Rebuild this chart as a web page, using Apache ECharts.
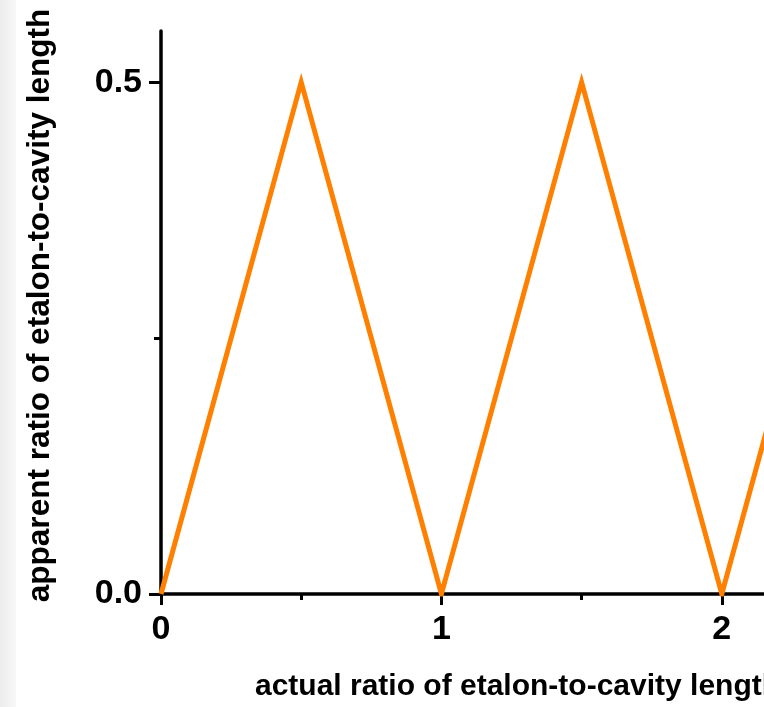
<!DOCTYPE html>
<html>
<head>
<meta charset="utf-8">
<script src="https://cdn.jsdelivr.net/npm/echarts@6/dist/echarts.min.js"></script>
<style>
  html, body { margin: 0; padding: 0; background: #ffffff; overflow: hidden; width: 764px; height: 707px; }
  /* the plot runs on past the right edge of the page */
  #chart { width: 862px; height: 707px; }
</style>
</head>
<body>
<div id="chart"></div>
<script>
// Apparent vs. actual etalon-to-cavity length ratio (folded sawtooth)
const actualRatio   = [0, 0.5, 1, 1.5, 2, 2.5];
const apparentRatio = [0, 0.5, 0, 0.5, 0, 0.5];
const xTickValues = [0, 1, 2];
const yTickValues = [0, 0.5];
const yMinorTicks = [0.25];

const xTitle = 'actual ratio of etalon-to-cavity length';
const yTitle = 'apparent ratio of etalon-to-cavity length';

const FONT = '"Liberation Sans", Arial, sans-serif';

const chart = echarts.init(document.getElementById('chart'), null, { renderer: 'canvas' });

chart.setOption({
  backgroundColor: '#ffffff',
  animation: false,
  graphic: [{
    type: 'rect',
    left: 0, top: 0, z: -10,
    shape: { width: 16, height: 707 },
    style: {
      fill: new echarts.graphic.LinearGradient(0, 0, 1, 0, [
        { offset: 0, color: '#ececec' },
        { offset: 1, color: '#f8f8f8' }
      ])
    }
  }],
  grid: { left: 161, top: 31, bottom: 111, right: 0, containLabel: false },
  xAxis: {
    type: 'value',
    min: 0, max: 2.5, interval: 1,
    name: xTitle,
    nameLocation: 'middle',
    nameGap: 78,
    nameTextStyle: { fontFamily: FONT, fontWeight: 'bold', fontSize: 30, color: '#000', padding: [0, 0, 0, 12] },
    axisLine: { show: true, onZero: false, lineStyle: { color: '#000', width: 3.5 } },
    axisTick: { show: true, inside: false, length: 11, lineStyle: { color: '#000', width: 3 }, customValues: xTickValues },
    minorTick: { show: true, splitNumber: 2, length: 6, lineStyle: { color: '#000', width: 3 } },
    axisLabel: {
      customValues: xTickValues,
      margin: 19,
      fontFamily: FONT, fontWeight: 'bold', fontSize: 34, color: '#000'
    },
    splitLine: { show: false },
    minorSplitLine: { show: false }
  },
  yAxis: [{
    type: 'value',
    min: 0, max: 0.55,
    name: yTitle,
    nameLocation: 'middle',
    nameGap: 105,
    nameTextStyle: { fontFamily: FONT, fontWeight: 'bold', fontSize: 31.5, color: '#000', padding: [0, 0, 0, 14] },
    axisLine: { show: true, onZero: false, lineStyle: { color: '#000', width: 3.5 } },
    axisTick: { show: true, inside: false, length: 12, lineStyle: { color: '#000', width: 3 }, customValues: yTickValues },
    axisLabel: {
      customValues: yTickValues,
      margin: 19,
      formatter: v => v.toFixed(1),
      fontFamily: FONT, fontWeight: 'bold', fontSize: 34, color: '#000'
    },
    splitLine: { show: false }
  }, {
    // minor ticks on the left axis
    type: 'value',
    min: 0, max: 0.55,
    position: 'left',
    axisLine: { show: false },
    axisTick: { show: true, inside: false, length: 7, lineStyle: { color: '#000', width: 3 }, customValues: yMinorTicks },
    axisLabel: { show: false },
    splitLine: { show: false }
  }],
  series: [{
    type: 'line',
    data: actualRatio.map((x, i) => [x, apparentRatio[i]]),
    showSymbol: false,
    symbol: 'none',
    lineStyle: { color: '#ff8000', width: 5, join: 'miter' },
    clip: true
  }]
});
</script>
</body>
</html>
